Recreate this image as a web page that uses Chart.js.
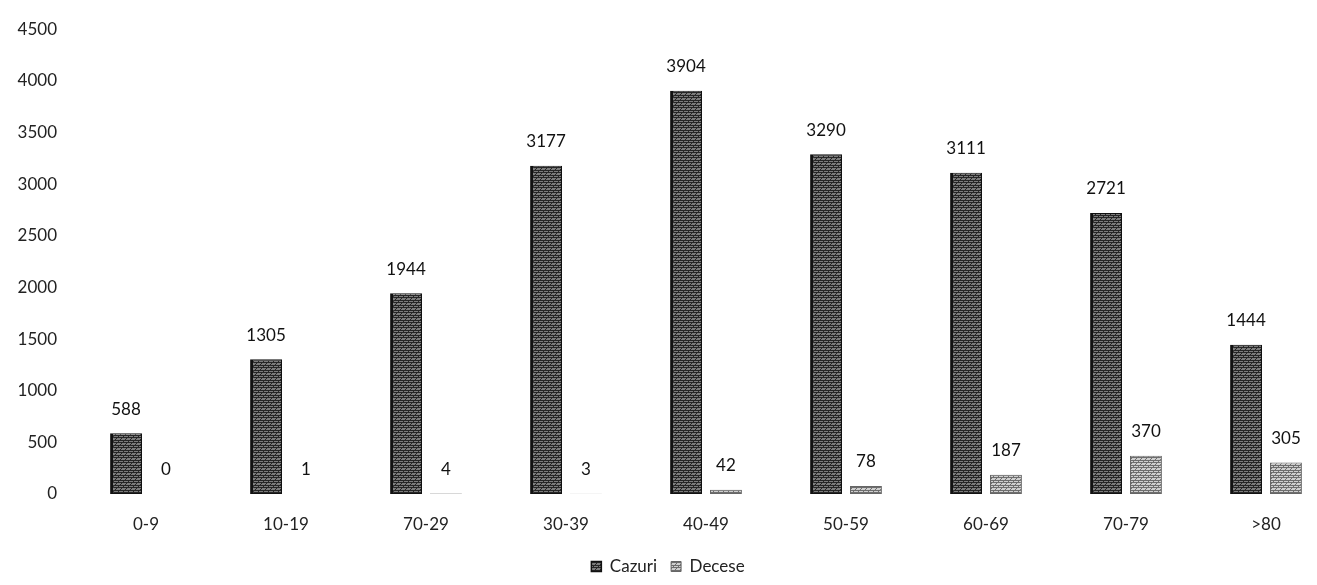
<!DOCTYPE html>
<html>
<head>
<meta charset="utf-8">
<script src="https://cdn.jsdelivr.net/npm/chart.js@4/dist/chart.umd.min.js"></script>
<style>
    html, body { margin: 0; padding: 0; background: #fff; overflow: hidden; }
    #wrap { width: 1336px; height: 585px; }
</style>
</head>
<body>
<div id="wrap"><canvas id="chart"></canvas></div>
<script>
// date din grafic
const categorii = ["0-9", "10-19", "70-29", "30-39", "40-49", "50-59", "60-69", "70-79", ">80"];
const cazuri = [588, 1305, 1944, 3177, 3904, 3290, 3111, 2721, 1444];
const decese = [0, 1, 4, 3, 42, 78, 187, 370, 305];
const yTicks = [0, 500, 1000, 1500, 2000, 2500, 3000, 3500, 4000, 4500];

const FONT = "Lato, 'Noto Sans', sans-serif";

// textura hasurata, ca in scanare
function makePattern(bg, line) {
    const c = document.createElement("canvas");
    c.width = 5;
    c.height = 5;
    const g = c.getContext("2d");
    g.fillStyle = bg;
    g.fillRect(0, 0, 5, 5);
    g.strokeStyle = line;
    g.lineWidth = 1;
    g.beginPath();
    g.moveTo(0, 5); g.lineTo(5, 0);
    g.moveTo(0, 0.5); g.lineTo(5, 0.5);
    g.moveTo(0, 2.5); g.lineTo(5, 2.5);
    g.stroke();
    return g.createPattern(c, "repeat");
}

const ctx = document.getElementById("chart").getContext("2d");
const patCazuri = makePattern("#7c7c7c", "#262626");
const patDecese = makePattern("#cfcfcf", "#6e6e6e");

// etichete deasupra barelor
const valueLabels = {
    id: "valueLabels",
    afterDatasetsDraw(chart) {
        const c = chart.ctx;
        c.save();
        c.font = "17px " + FONT;
        c.fillStyle = "#111";
        c.textAlign = "center";
        c.textBaseline = "middle";
        chart.data.datasets.forEach((ds, i) => {
            chart.getDatasetMeta(i).data.forEach((bar, j) => {
                c.fillText(String(ds.data[j]), bar.x, bar.y - 24);
            });
        });
        c.restore();
    }
};

new Chart(ctx, {
    type: "bar",
    data: {
        labels: categorii,
        datasets: [
            {
                label: "Cazuri",
                data: cazuri,
                backgroundColor: patCazuri,
                borderColor: "#111",
                borderWidth: { left: 3, right: 1, top: 1, bottom: 1 },
                borderSkipped: false,
                categoryPercentage: 0.57,
                barPercentage: 0.8
            },
            {
                label: "Decese",
                data: decese,
                backgroundColor: patDecese,
                borderColor: "#666",
                borderWidth: 1,
                borderSkipped: false,
                categoryPercentage: 0.57,
                barPercentage: 0.8
            }
        ]
    },
    options: {
        responsive: true,
        maintainAspectRatio: false,
        animation: false,
        layout: { padding: { top: 23, left: 0, right: 0, bottom: 0 } },
        plugins: {
            legend: {
                position: "bottom",
                labels: {
                    boxWidth: 10,
                    boxHeight: 10,
                    color: "#222",
                    font: { family: FONT, size: 17 },
                    padding: 14
                }
            },
            tooltip: { enabled: false }
        },
        scales: {
            x: {
                grid: { display: false, drawTicks: false },
                border: { display: false },
                ticks: { color: "#222", font: { family: FONT, size: 17 }, padding: 20 },
                afterFit(scale) { scale.height = 50; }
            },
            y: {
                min: 0,
                max: 4500,
                grid: { display: false, drawTicks: false },
                border: { display: false },
                afterBuildTicks(scale) { scale.ticks = yTicks.map(v => ({ value: v })); },
                afterFit(scale) { scale.width = 76; },
                ticks: {
                    color: "#222",
                    font: { family: FONT, size: 17 },
                    padding: 19,
                    callback: v => String(v)
                }
            }
        }
    },
    plugins: [valueLabels]
});
</script>
</body>
</html>
